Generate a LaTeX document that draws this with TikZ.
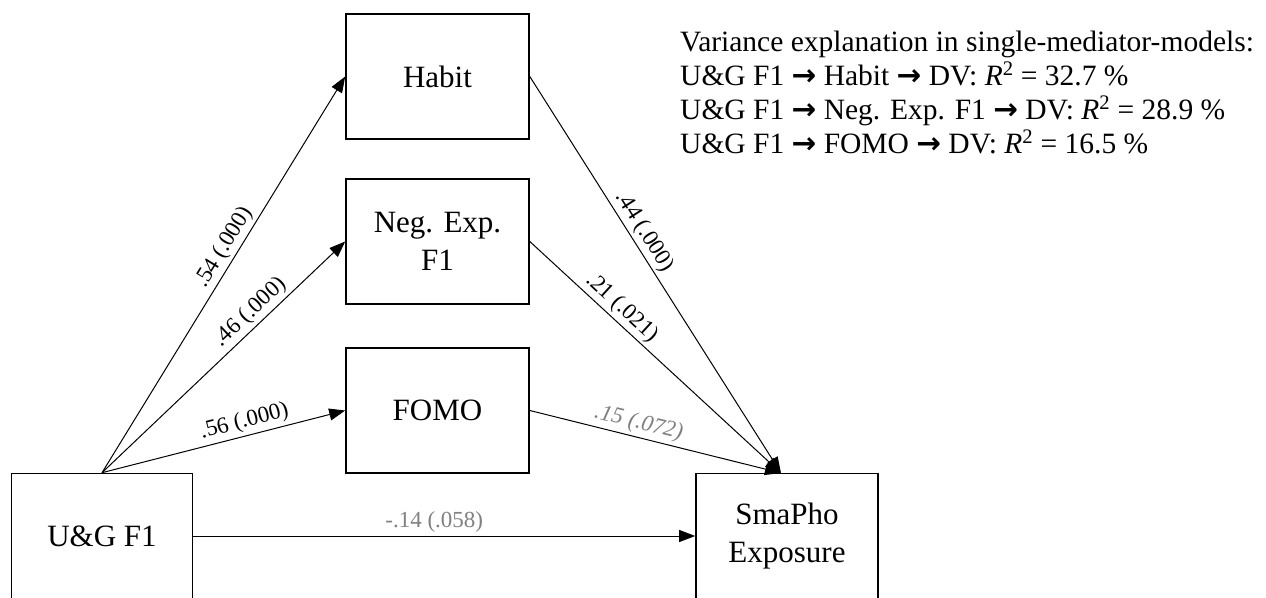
\documentclass[tikz,border=0pt]{standalone}
\usepackage{fontspec}
\setmainfont{Liberation Serif}
\newfontfamily\arrowfont{DejaVu Sans}
\usetikzlibrary{arrows.meta}
\newcommand{\myarr}{{\arrowfont\bfseries →}}
\begin{document}
\begin{tikzpicture}[x=1pt,y=-1pt,
  box/.style={draw, line width=1.6pt, minimum width=183pt, minimum height=125pt, inner sep=0pt, align=center, font=\fontsize{31}{38}\selectfont},
  link/.style={line width=1pt, -{Triangle[length=16pt,width=12pt]}},
  lab/.style={font=\fontsize{23}{27}\selectfont, sloped, above, inner sep=3pt},
  weak/.style={text=black!50},
  txt/.style={anchor=base west, inner sep=0pt, font=\fontsize{29.5}{34}\selectfont}
]
\useasboundingbox (0,0) rectangle (1266,597);

\node[box] (habit) at (437.5,76.5) {Habit};
\node[box] (neg) at (437.5,241.5) {Neg. Exp.\\F1};
\node[box] (fomo) at (437.5,410.5) {FOMO};
\node[box, minimum width=181pt] (ug) at (102,536) {U\&G F1};
\node[box, minimum width=182pt] (sma) at (787,536) {SmaPho\\Exposure};
\coordinate (conv) at (781,473);

\draw[link] (ug.north) -- node[lab,pos=0.55]{.54 (.000)} (habit.west);
\draw[link] (ug.north) -- node[lab,pos=0.65]{.46 (.000)} (neg.west);
\draw[link] (ug.north) -- node[lab,pos=0.6]{.56 (.000)} (fomo.west);
\draw[link] (habit.east) -- node[lab,pos=0.41]{.44 (.000)} (conv);
\draw[link] (neg.east) -- node[lab,pos=0.33]{.21 (.021)} (conv);
\draw[link] (fomo.east) -- node[lab,weak,pos=0.42,font=\fontsize{23}{27}\selectfont\itshape]{.15 (.072)} (conv);
\draw[link] (ug.east) -- node[lab,weak,pos=0.48]{-.14 (.058)} (sma.west);

\node[txt] (t1) at (680,51) {Variance explanation in single-mediator-models:};
\node[txt] (t2) at (680,85) {U\&G F1 \myarr{} Habit \myarr{} DV: \textit{R}\textsuperscript{2} = 32.7 \%};
\node[txt] (t3) at (680,119) {U\&G F1 \myarr{} Neg. Exp. F1 \myarr{} DV: \textit{R}\textsuperscript{2} = 28.9 \%};
\node[txt] (t4) at (680,153) {U\&G F1 \myarr{} FOMO \myarr{} DV: \textit{R}\textsuperscript{2} = 16.5 \%};
\end{tikzpicture}
\end{document}
